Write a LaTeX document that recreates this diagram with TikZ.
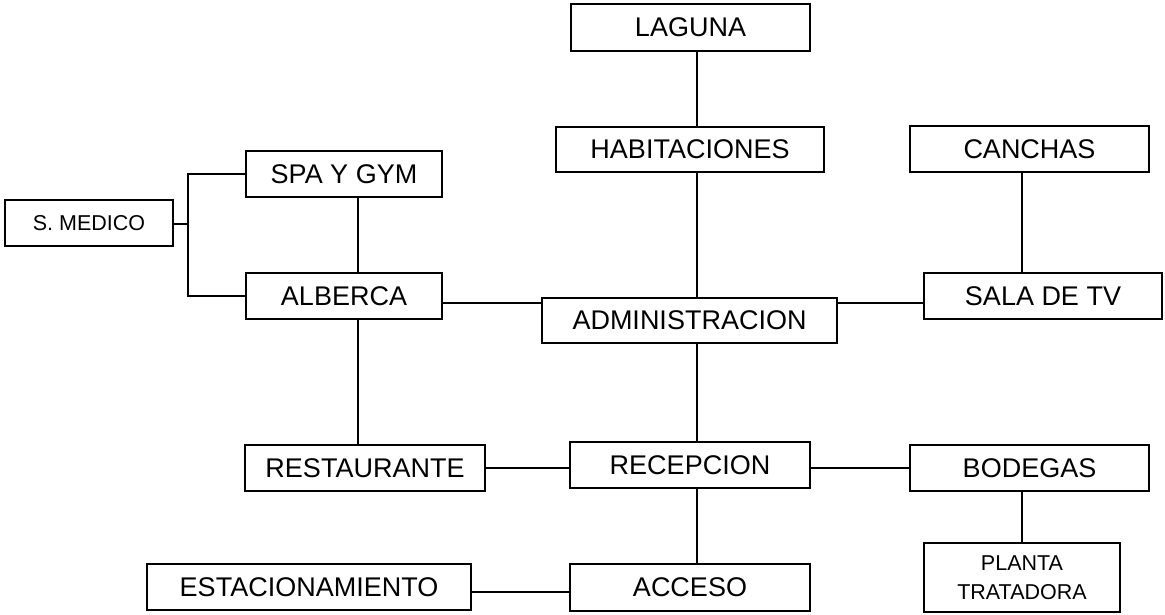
\documentclass[tikz,border=0pt]{standalone}
\usepackage{fontspec}
\setmainfont{Liberation Sans}
\begin{document}
\begin{tikzpicture}[x=1pt,y=-1pt,
  box/.style={draw=black, line width=1.6pt, inner sep=0pt, fill=white,
    font=\fontsize{27}{32}\selectfont},
  smallbox/.style={box, font=\fontsize{21.5}{29}\selectfont, align=center},
  link/.style={draw=black, line width=1.6pt}]
\useasboundingbox[fill=white] (0,0) rectangle (1165,614);
% nodes
\node[box, minimum width=239, minimum height=47] (lag) at (690.5,27.5) {LAGUNA};
\node[box, minimum width=268, minimum height=45] (hab) at (690,149.5) {HABITACIONES};
\node[box, minimum width=239, minimum height=46] (can) at (1029.5,149) {CANCHAS};
\node[box, minimum width=196, minimum height=46] (spa) at (344,174) {SPA Y GYM};
\node[smallbox, minimum width=168, minimum height=46] (med) at (89,223) {S. MEDICO};
\node[box, minimum width=196, minimum height=46] (alb) at (344,296) {ALBERCA};
\node[box, minimum width=295, minimum height=45] (adm) at (689.5,320.5) {ADMINISTRACION};
\node[box, minimum width=238, minimum height=46] (tv) at (1043,296) {SALA DE TV};
\node[box, minimum width=240, minimum height=46] (res) at (365,468) {RESTAURANTE};
\node[box, minimum width=240, minimum height=46] (rec) at (690,465) {RECEPCION};
\node[box, minimum width=239, minimum height=46] (bod) at (1029.5,468) {BODEGAS};
\node[smallbox, minimum width=196, minimum height=69] (pla) at (1022,577.5) {PLANTA\\TRATADORA};
\node[box, minimum width=324, minimum height=46] (est) at (309,587) {ESTACIONAMIENTO};
\node[box, minimum width=240, minimum height=47] (acc) at (690,587.5) {ACCESO};
% guide coordinates
\coordinate (vc) at (697,0);
\coordinate (vl) at (358,0);
\coordinate (vr) at (1022,0);
\coordinate (hm) at (0,303);
\coordinate (hl) at (0,468);
\coordinate (hb) at (0,592);
\coordinate (bx) at (188,224);
\coordinate (bt) at (188,174);
\coordinate (bb) at (188,296);
% connectors
\draw[link] (lag.south -| vc) -- (hab.north -| vc);
\draw[link] (hab.south -| vc) -- (adm.north -| vc);
\draw[link] (adm.south -| vc) -- (rec.north -| vc);
\draw[link] (rec.south -| vc) -- (acc.north -| vc);
\draw[link] (spa.south -| vl) -- (alb.north -| vl);
\draw[link] (alb.south -| vl) -- (res.north -| vl);
\draw[link] (can.south -| vr) -- (tv.north -| vr);
\draw[link] (bod.south -| vr) -- (pla.north -| vr);
\draw[link] (alb.east |- hm) -- (adm.west |- hm);
\draw[link] (adm.east |- hm) -- (tv.west |- hm);
\draw[link] (res.east |- hl) -- (rec.west |- hl);
\draw[link] (rec.east |- hl) -- (bod.west |- hl);
\draw[link] (est.east |- hb) -- (acc.west |- hb);
\draw[link] (med.east |- bx) -- (bx);
\draw[link] (spa.west |- bt) -- (bt) -- (bb) -- (alb.west |- bb);
\end{tikzpicture}
\end{document}
